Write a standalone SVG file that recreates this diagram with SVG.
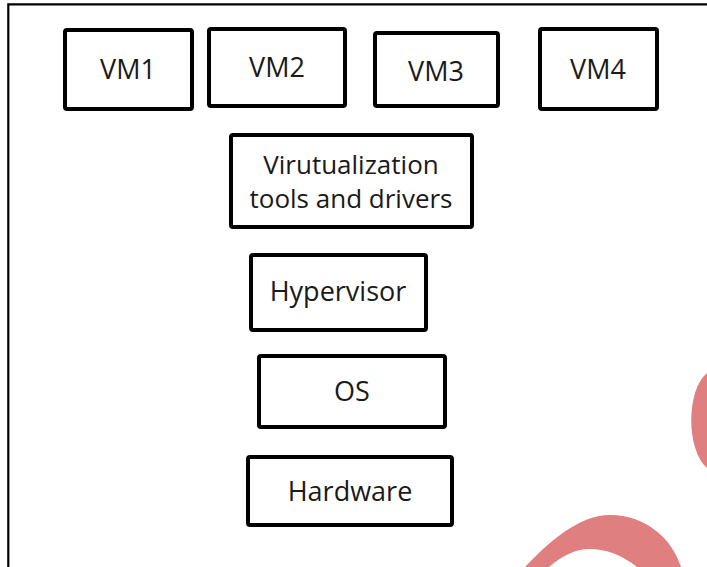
<svg xmlns="http://www.w3.org/2000/svg" width="707" height="567" viewBox="0 0 707 567">
<style>
.box{fill:#fff;stroke:#000;stroke-width:4;stroke-linejoin:round}
.lbl{font-family:"Open Sans","DejaVu Sans",sans-serif;font-size:27px;fill:#1a1a1a;text-anchor:middle}
.two{font-size:26px}
.deco{fill:#df7f7f}
</style>
<rect x="0" y="0" width="707" height="567" fill="#fff"/>
<path d="M8.3,567 L8.3,4.3 L707,4.3" fill="none" stroke="#000" stroke-width="2.2"/>
<g id="decoration">
<path class="deco" d="M707,373 C686,390 686,450 707,468 Z"/>
<path class="deco" d="M525,567 C548,543 578,515 610,515 C645,515 672,538 681,567 L637,567 C622,555 606,549 590,549 C575,549 562,556 549,567 Z"/>
</g>
<g id="connectors"/>
<g id="vm1"><rect class="box" x="65" y="30" width="127" height="79" rx="2"/><text class="lbl" x="128" y="79">VM1</text></g>
<g id="vm2"><rect class="box" x="209" y="29" width="136" height="77" rx="2"/><text class="lbl" x="277" y="77">VM2</text></g>
<g id="vm3"><rect class="box" x="375" y="33" width="123" height="73" rx="2"/><text class="lbl" x="436" y="81">VM3</text></g>
<g id="vm4"><rect class="box" x="540" y="29" width="117" height="80" rx="2"/><text class="lbl" x="598" y="79">VM4</text></g>
<g id="virt"><rect class="box" x="231" y="135" width="241" height="92" rx="2"/><text class="lbl two" x="351" y="174">Virutualization</text><text class="lbl two" x="351" y="208">tools and drivers</text></g>
<g id="hypervisor"><rect class="box" x="251" y="255" width="175" height="75" rx="2"/><text class="lbl" x="338" y="301">Hypervisor</text></g>
<g id="os"><rect class="box" x="259" y="356" width="186" height="71" rx="2"/><text class="lbl" x="352" y="401">OS</text></g>
<g id="hardware"><rect class="box" x="248" y="457" width="204" height="68" rx="2"/><text class="lbl" x="350" y="501">Hardware</text></g>
</svg>
